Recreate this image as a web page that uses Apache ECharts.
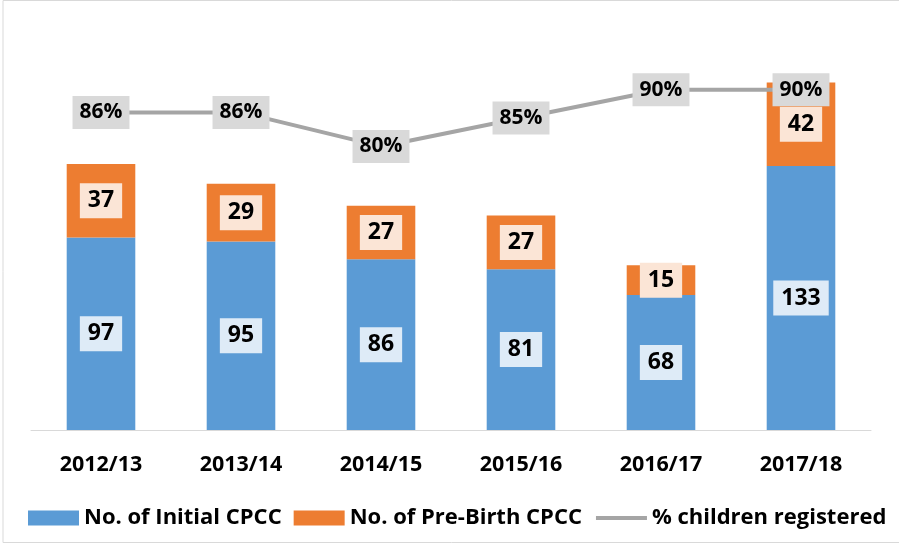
<!DOCTYPE html>
<html>
<head>
<meta charset="utf-8">
<script src="https://cdn.jsdelivr.net/npm/echarts@6/dist/echarts.min.js"></script>
<style>
  html, body { margin: 0; padding: 0; background: #fff; }
  #chart { width: 899px; height: 544px; }
</style>
</head>
<body>
<div id="chart"></div>
<script>
// data
const anos = ['2012/13', '2013/14', '2014/15', '2015/16', '2016/17', '2017/18'];
const iniciais = [97, 95, 86, 81, 68, 133];
const preNatal = [37, 29, 27, 27, 15, 42];
const registrados = [86, 86, 80, 85, 90, 90];

const fonte = '"Open Sans", "Noto Sans", sans-serif';

const chart = echarts.init(document.getElementById('chart'));
chart.setOption({
  animation: false,
  backgroundColor: '#fff',
  graphic: [{
    type: 'rect',
    shape: { x: 3, y: 0.5, width: 1000, height: 542 },
    style: { fill: 'none', stroke: '#d9d9d9', lineWidth: 1 }
  }],
  grid: { left: 31, right: 28, top: 33, bottom: 114 },
  legend: {
    bottom: 15,
    left: 28,
    padding: 0,
    itemWidth: 51,
    itemHeight: 15,
    itemGap: 12,
    textStyle: { fontFamily: fonte, fontWeight: 'bold', fontSize: 22, color: '#000' },
    data: [
      { name: 'No. of Initial CPCC', icon: 'rect' },
      { name: 'No. of Pre-Birth CPCC', icon: 'rect' },
      { name: '% children registered', itemStyle: { opacity: 0 }, lineStyle: { width: 4 } }
    ]
  },
  xAxis: {
    type: 'category',
    data: anos,
    axisLine: { lineStyle: { color: '#d9d9d9', width: 1 } },
    axisTick: { show: false },
    axisLabel: { fontFamily: fonte, fontWeight: 'bold', fontSize: 21.5, color: '#000', margin: 24 }
  },
  yAxis: [
    { type: 'value', min: 0, max: 200, show: false, splitLine: { show: false } },
    { type: 'value', min: 30, max: 100, show: false, splitLine: { show: false } }
  ],
  series: [
    {
      name: 'No. of Initial CPCC',
      type: 'bar',
      stack: 'cpcc',
      barWidth: '49%',
      data: iniciais,
      itemStyle: { color: '#5B9BD5' },
      label: {
        show: true, position: 'inside',
        fontFamily: fonte, fontWeight: 'bold', fontSize: 23, color: '#000',
        backgroundColor: '#DEEBF7', padding: [7, 8, 5, 8]
      }
    },
    {
      name: 'No. of Pre-Birth CPCC',
      type: 'bar',
      stack: 'cpcc',
      barWidth: '49%',
      data: preNatal,
      itemStyle: { color: '#ED7D31' },
      label: {
        show: true, position: 'inside',
        fontFamily: fonte, fontWeight: 'bold', fontSize: 23, color: '#000',
        backgroundColor: '#FBE5D6', padding: [7, 8, 5, 8]
      }
    },
    {
      name: '% children registered',
      type: 'line',
      yAxisIndex: 1,
      data: registrados,
      symbol: 'circle',
      symbolSize: 1,
      itemStyle: { color: '#A5A5A5' },
      lineStyle: { color: '#A5A5A5', width: 4 },
      label: {
        show: true, position: 'inside',
        formatter: p => p.value + '%',
        fontFamily: fonte, fontWeight: 'bold', fontSize: 21, color: '#000',
        backgroundColor: '#D9D9D9', padding: [7, 7, 5, 7]
      }
    }
  ]
});
</script>
</body>
</html>
